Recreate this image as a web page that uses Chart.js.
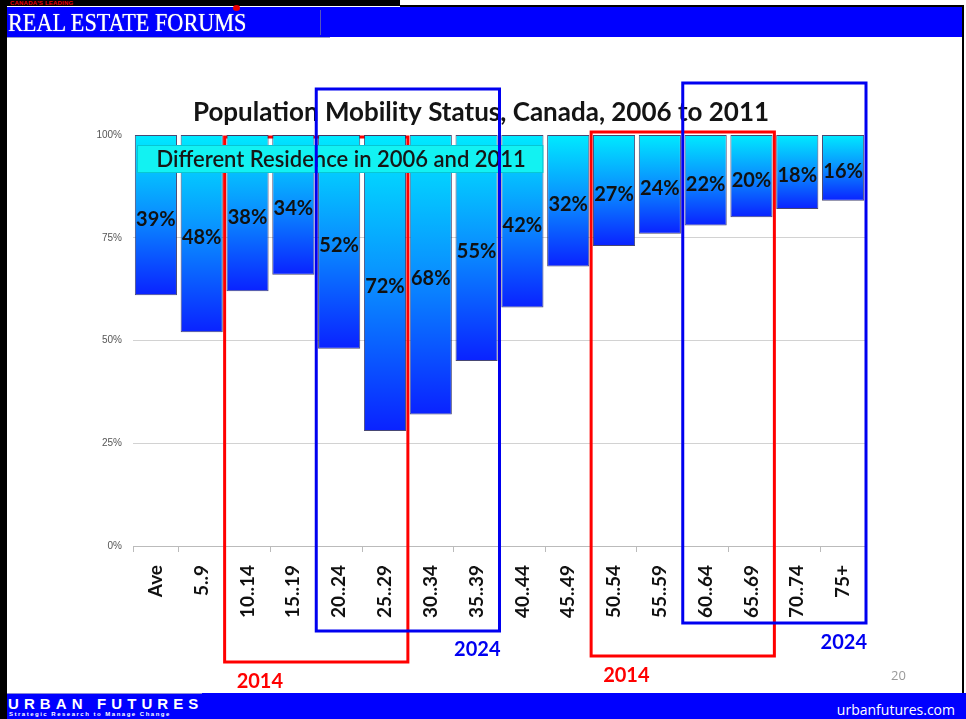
<!DOCTYPE html>
<html>
<head>
<meta charset="utf-8">
<script src="https://cdn.jsdelivr.net/npm/chart.js@4.4.1/dist/chart.umd.min.js"></script>
<style>
html,body{margin:0;padding:0;background:#fff;}
body{width:966px;height:719px;position:relative;overflow:hidden;font-family:Lato,'Open Sans',sans-serif;}
#wrap{position:absolute;left:0;top:0;width:966px;height:719px;}
.abs{position:absolute;}
#frameL{left:0;top:0;width:7px;height:719px;background:#000;}
#frameT1{left:0;top:0;width:400px;height:6px;background:#000;}
#frameT2{left:400px;top:5px;width:564px;height:2px;background:#000;}
#frameR{left:962px;top:5px;width:2px;height:688px;background:#000;}
#hdr{left:7px;top:7px;width:956px;height:30px;background:#0000FF;}
#hdrLine{left:7px;top:37px;width:323px;height:1px;background:#9aa0c8;}
#hdrSep{left:320px;top:10px;width:1px;height:25px;background:#5555bb;}
#hdrTitle{left:8px;top:9px;font-family:'Liberation Serif','Times New Roman',serif;font-size:25px;color:#fff;white-space:nowrap;transform-origin:0 0;transform:scaleX(0.89);letter-spacing:0px;text-shadow:0 0 1px #ccc;}
#hdrSmall{left:10px;top:0px;font-family:'Liberation Sans',sans-serif;font-weight:bold;font-size:6px;color:#e00;white-space:nowrap;letter-spacing:0.2px;}
#leaf{left:233px;top:5px;width:7px;height:6px;border-radius:50%;background:#e00;}
#ftr{left:7px;top:693px;width:959px;height:26px;background:#0000FF;}
#ftrLine{left:7px;top:693px;width:195px;height:1px;background:#8888dd;}
#ftrTitle{left:8px;top:695px;font-family:'Liberation Sans',Arial,sans-serif;font-weight:bold;font-size:15px;color:#fff;letter-spacing:5.1px;white-space:nowrap;}
#ftrSub{left:9px;top:711px;font-family:'Liberation Sans',Arial,sans-serif;font-weight:bold;font-size:6px;color:#fff;letter-spacing:1.5px;white-space:nowrap;}
#ftrUrl{right:11px;top:700px;font-family:'Open Sans',sans-serif;font-size:14px;color:#fff;white-space:nowrap;}
#pageNo{left:891px;top:666px;font-family:'Open Sans',sans-serif;font-size:13px;color:#999;}
</style>
</head>
<body>
<div id="wrap"><canvas id="c" width="966" height="719"></canvas></div>
<div class="abs" id="hdr"></div>
<div class="abs" id="hdrLine"></div>
<div class="abs" id="hdrSep"></div>
<div class="abs" id="hdrTitle">REAL ESTATE FORUMS</div>
<div class="abs" id="frameL"></div>
<div class="abs" id="frameT1"></div>
<div class="abs" id="frameT2"></div>
<div class="abs" id="frameR"></div>
<div class="abs" id="hdrSmall">CANADA'S LEADING</div>
<div class="abs" id="leaf"></div>
<div class="abs" id="ftr"></div>
<div class="abs" id="ftrLine"></div>
<div class="abs" id="ftrTitle">URBAN FUTURES</div>
<div class="abs" id="ftrSub">Strategic Research to Manage Change</div>
<div class="abs" id="ftrUrl">urbanfutures.com</div>
<div class="abs" id="pageNo">20</div>
<script>
// ---- data ----
const categories = ['Ave','5..9','10..14','15..19','20..24','25..29','30..34','35..39','40..44','45..49','50..54','55..59','60..64','65..69','70..74','75+'];
const movedShare = [39,48,38,34,52,72,68,55,42,32,27,24,22,20,18,16];
const yTickValues = [0,25,50,75,100];
const chartTitle = 'Population Mobility Status, Canada, 2006 to 2011';
const boxLabel = 'Different Residence in 2006 and 2011';
const highlightLabels = ['2014','2024','2014','2024'];
const highlightFrom = ['10..14','20..24','50..54','60..64'];
const highlightTo = ['25..29','35..39','65..69','75+'];

// ---- styles ----
const RED = '#FF0000', BLUE = '#0000F0';
const hlStyle = [
  {color:RED, topOff:2, botOff:116, labelSide:'left', labelDy:20},
  {color:BLUE, topOff:-46, botOff:85, labelSide:'right', labelDy:19},
  {color:RED, topOff:-3, botOff:110, labelSide:'left', labelDy:20},
  {color:BLUE, topOff:-52, botOff:77, labelSide:'right', labelDy:20}
];

function catEdges(chart, fromCat, toCat){
  const x = chart.scales.x;
  const i0 = categories.indexOf(fromCat), i1 = categories.indexOf(toCat);
  const w = x.getPixelForValue(1) - x.getPixelForValue(0);
  return [x.getPixelForValue(i0) - w/2, x.getPixelForValue(i1) + w/2];
}

function drawHighlights(chart, color){
  const ctx = chart.ctx, ca = chart.chartArea;
  highlightLabels.forEach((lab, i) => {
    const st = hlStyle[i];
    if (st.color !== color) return;
    const [l, r] = catEdges(chart, highlightFrom[i], highlightTo[i]);
    const top = ca.top + st.topOff, bot = ca.bottom + st.botOff;
    ctx.save();
    ctx.strokeStyle = st.color;
    ctx.lineWidth = 3;
    ctx.strokeRect(l, top, r - l, bot - top);
    ctx.fillStyle = st.color;
    ctx.font = 'bold 20px Lato';
    ctx.textBaseline = 'middle';
    if (st.labelSide === 'left') { ctx.textAlign = 'left'; ctx.fillText(lab, l + 12, bot + st.labelDy); }
    else { ctx.textAlign = 'right'; ctx.fillText(lab, r + 1, bot + st.labelDy); }
    ctx.restore();
  });
}

const overlayPlugin = {
  id: 'overlay',
  beforeDatasetsDraw(chart){ drawHighlights(chart, RED); },
  afterDatasetsDraw(chart){
    const ctx = chart.ctx, ca = chart.chartArea;
    const meta = chart.getDatasetMeta(0);
    // value labels
    ctx.save();
    ctx.font = 'bold 20px Lato';
    ctx.fillStyle = '#111';
    ctx.textAlign = 'center';
    ctx.textBaseline = 'middle';
    meta.data.forEach((el, i) => {
      const p = el.getProps(['x','y','base'], true);
      ctx.fillText(movedShare[i] + '%', p.x, (p.y + p.base)/2 + 4);
    });
    ctx.restore();
    // cyan label box
    const x = chart.scales.x;
    const w = x.getPixelForValue(1) - x.getPixelForValue(0);
    const bl = ca.left + 4, br = x.getPixelForValue(8) + w/2 - 2;
    const bt = ca.top + 10, bb = ca.top + 38;
    ctx.save();
    ctx.fillStyle = '#12F2F2';
    ctx.fillRect(bl, bt, br - bl, bb - bt);
    ctx.strokeStyle = 'rgba(0,170,190,0.6)';
    ctx.lineWidth = 1;
    ctx.strokeRect(bl + 0.5, bt + 0.5, br - bl - 1, bb - bt - 1);
    ctx.fillStyle = '#161616';
    ctx.font = '600 22px Lato';
    ctx.textAlign = 'center';
    ctx.textBaseline = 'middle';
    ctx.fillText(boxLabel, (bl + br)/2 + 1, (bt + bb)/2 + 1);
    ctx.restore();
    drawHighlights(chart, BLUE);
  }
};

const floatingData = movedShare.map(v => [100 - v, 100]);

new Chart(document.getElementById('c'), {
  type: 'bar',
  data: {
    labels: categories,
    datasets: [{
      label: 'Different Residence in 2006 and 2011',
      data: floatingData,
      categoryPercentage: 1.0,
      barPercentage: 0.92,
      borderWidth: 1,
      borderColor: 'rgba(40,40,90,0.85)',
      borderSkipped: false,
      backgroundColor: (c) => {
        const chart = c.chart;
        if (!chart.chartArea || c.dataIndex === undefined) return '#0090FF';
        const y = chart.scales.y;
        const v = movedShare[c.dataIndex];
        const y0 = y.getPixelForValue(100), y1 = y.getPixelForValue(100 - v);
        const g = chart.ctx.createLinearGradient(0, y0, 0, y1);
        g.addColorStop(0, '#00EAFF');
        g.addColorStop(0.5, '#0A8EFF');
        g.addColorStop(1, '#0A22FF');
        return g;
      }
    }]
  },
  options: {
    responsive: false,
    animation: false,
    devicePixelRatio: 1,
    layout: { padding: { left: 96, right: 100, top: 0, bottom: 53 } },
    plugins: {
      legend: { display: false },
      tooltip: { enabled: false },
      title: {
        display: true,
        text: chartTitle,
        color: '#141414',
        font: { family: 'Lato', size: 26, weight: 'bold', lineHeight: 1.2 },
        padding: { top: 97.4, bottom: 6.4 }
      }
    },
    scales: {
      x: {
        offset: true,
        grid: { offset: true, drawOnChartArea: false, drawTicks: true, tickLength: 6, color: '#bbbbbb' },
        border: { display: true, color: '#bbbbbb' },
        ticks: {
          autoSkip: false, minRotation: 90, maxRotation: 90, padding: 13,
          color: '#111', font: { family: 'Lato', size: 19, weight: 'bold' }
        },
        afterFit: (s) => { s.height = 120; }
      },
      y: {
        min: 0, max: 100,
        afterBuildTicks: (s) => { s.ticks = yTickValues.map(v => ({ value: v })); },
        grid: {
          drawTicks: false,
          color: (c) => (c.tick && c.tick.value === 100) ? 'rgba(0,0,0,0)' : '#d2d2d2'
        },
        border: { display: false },
        ticks: {
          padding: 11, color: '#555',
          font: { family: 'Liberation Sans', size: 10 },
          callback: (v) => v + '%'
        },
        afterFit: (s) => { s.width = 37; }
      }
    }
  },
  plugins: [overlayPlugin]
});
</script>
</body>
</html>
